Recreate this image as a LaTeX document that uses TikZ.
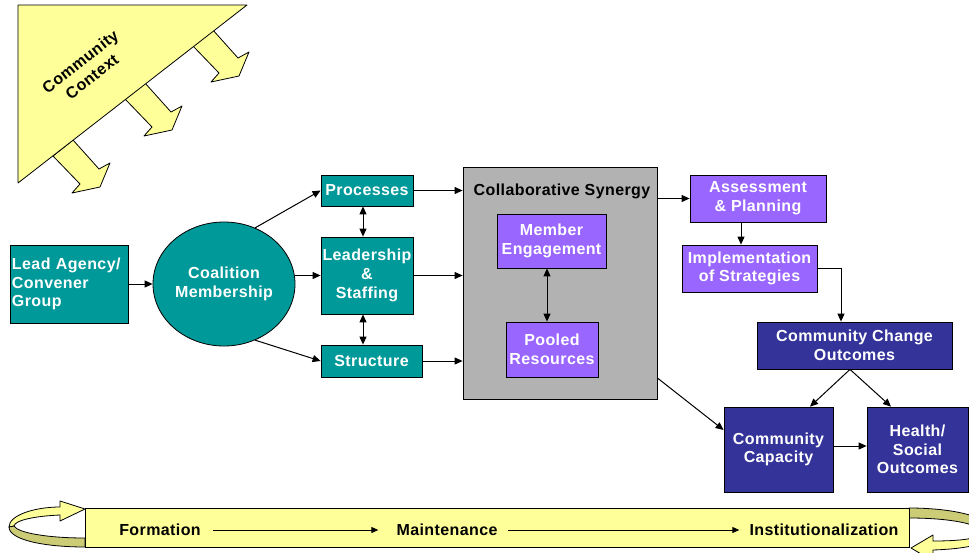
\documentclass[tikz,border=0pt]{standalone}
\usepackage{fontspec}
\setmainfont[LetterSpace=2.5]{Liberation Sans}
\usetikzlibrary{arrows.meta,shapes.geometric,calc}
\definecolor{cteal}{HTML}{009999}
\definecolor{cpurp}{HTML}{9966FF}
\definecolor{cblue}{HTML}{333399}
\definecolor{cgray}{HTML}{B2B2B2}
\definecolor{cyel}{HTML}{FFFF99}
\definecolor{colive}{HTML}{CCCC77}
\begin{document}
\begin{tikzpicture}[x=1pt,y=-1pt,
  txt/.style={font=\bfseries\fontsize{16}{18.7}\selectfont},
  box/.style={txt, draw=black, line width=0.8pt, inner sep=0pt, text=white, align=center},
  tealbox/.style={box, fill=cteal},
  purpbox/.style={box, fill=cpurp},
  bluebox/.style={box, fill=cblue},
  arr/.style={-{Triangle[length=8pt,width=7pt]}, line width=1pt},
  darr/.style={{Triangle[length=8pt,width=7pt]}-{Triangle[length=8pt,width=7pt]}, line width=1pt},
  barr/.style={-{Triangle[length=7pt,width=6pt]}, line width=0.9pt},
  lbl/.style={txt, inner sep=0pt, text=black},
  blk/.style={fill=cyel, draw=black, line width=0.8pt, line join=round},
  blkdark/.style={fill=colive, draw=black, line width=0.8pt, line join=round}]
\useasboundingbox (0,0) rectangle (969,552);

% community context: block arrows and triangle
\foreach \dx/\dy in {0/0,72/-57,139/-111}{
  \begin{scope}[shift={(\dx,\dy)}]
    \path[blk] (53,156) -- (80,184) -- (72,193) -- (100,187) -- (110,163) -- (99,169) -- (73,140) -- cycle;
  \end{scope}}
\path[blk] (18,5) -- (247,5) -- (18,183) -- cycle;
\node[lbl, font=\bfseries\fontsize{16}{19}\selectfont, rotate=38, align=center] (ctx) at (86,69) {Community\\Context};

% left side
\node[tealbox, minimum width=118pt, minimum height=78pt, text width=114pt, align=left] (lead) at (69,284) {\raisebox{0pt}[\height][0pt]{}Lead Agency/\\Convener\\Group};
\node[tealbox, ellipse, minimum width=142pt, minimum height=124pt] (coal) at (224,284) {Coalition\\Membership};
\node[tealbox, minimum width=92pt, minimum height=31pt] (proc) at (367,190.5) {Processes};
\node[tealbox, minimum width=92pt, minimum height=77pt] (lship) at (367,275.5) {Leadership\\\&\\Staffing};
\node[tealbox, minimum width=101pt, minimum height=32pt] (struc) at (371.5,361) {Structure};

% collaborative synergy
\node[draw=black, line width=0.8pt, fill=cgray, minimum width=194pt, minimum height=232pt, inner sep=0pt] (collab) at (560,283) {};
\node[lbl] (colt) at (562,191) {Collaborative Synergy};
\node[purpbox, minimum width=109pt, minimum height=54pt] (member) at (551.5,241) {Member\\Engagement};
\node[purpbox, minimum width=92pt, minimum height=55pt] (pooled) at (552,349.5) {Pooled\\Resources};

% right side
\node[purpbox, minimum width=136pt, minimum height=47pt] (assess) at (758,198.5) {Assessment\\\& Planning};
\node[purpbox, minimum width=135pt, minimum height=47pt] (impl) at (749.5,268.5) {Implementation\\of Strategies};
\node[bluebox, minimum width=195pt, minimum height=47pt] (cco) at (854.5,345.5) {Community Change\\Outcomes};
\node[bluebox, minimum width=109pt, minimum height=85pt] (cap) at (778.5,449.5) {Community\\Capacity};
\node[bluebox, minimum width=101pt, minimum height=85pt] (health) at (917.5,449.5) {Health/\\Social\\Outcomes};

% connectors
\draw[arr] (lead.east) -- (coal.west);
\draw[arr] (coal.61) -- (proc.west);
\draw[arr] (coal.east |- lship.west) -- (lship.west);
\draw[arr] (coal.-61) -- (struc.west);
\draw[darr] ([xshift=-4pt]proc.south) -- ([xshift=-4pt]lship.north);
\draw[darr] ([xshift=-4pt]lship.south) -- ([xshift=-4pt]lship.south |- struc.north);
\draw[arr] (proc.east) -- (proc.east -| collab.west);
\draw[arr] (lship.east) -- (lship.east -| collab.west);
\draw[arr] (struc.east) -- (struc.east -| collab.west);
\draw[darr] ([xshift=-4.5pt]member.south) -- ([xshift=-4.5pt]member.south |- pooled.north);
\draw[arr] (collab.east |- assess.west) -- (assess.west);
\draw[arr] ([xshift=-17pt]assess.south) -- ([xshift=-8.5pt]impl.north);
\draw[arr] (impl.east) -| ([xshift=-13.5pt]cco.north);
\draw[arr] ([xshift=-4.5pt]cco.south) -- ([xshift=31.5pt]cap.north);
\draw[arr] ([xshift=-4.5pt]cco.south) -- ([xshift=-26.5pt]health.north);
\draw[arr] ([yshift=-95pt]collab.east) -- ([yshift=19.5pt]cap.west);
\draw[arr] ([yshift=3.5pt]cap.east) -- ([yshift=3.5pt]health.west);

% bottom bar with loops
\begin{scope}
  \clip (0,0) rectangle (969,552);
  \path[blk] (9,527) .. controls (9,515) and (35,507) .. (60,507) -- (60,501) -- (85,509) -- (60,521) -- (60,515) .. controls (36,516) and (15,520) .. (14,526) -- cycle;
  \path[blkdark] (9,527) .. controls (9,540) and (45,547) .. (85,547) -- (85,538) .. controls (48,538) and (18,533) .. (14,526) -- cycle;
  \path[blkdark] (909,508) .. controls (950,508) and (992,516) .. (992,532) -- (982,532) .. controls (980,524) and (950,518) .. (909,518) -- cycle;
  \path[blk] (992,532) .. controls (992,545) and (962,549) .. (933,550) -- (933,561) -- (911,548) -- (933,535) -- (933,541) .. controls (958,541) and (982,539) .. (982,532) -- cycle;
\end{scope}
\node[draw=black, line width=0.8pt, fill=cyel, minimum width=824pt, minimum height=39pt, inner sep=0pt] (bar) at (497,527.5) {};
\node[lbl] (form) at (160,530) {Formation};
\node[lbl] (maint) at (447,530) {Maintenance};
\node[lbl] (inst) at (824,530) {Institutionalization};
\draw[barr, shorten <=12pt, shorten >=18pt] (form.east) -- (maint.west);
\draw[barr, shorten <=10pt, shorten >=10pt] (maint.east) -- (inst.west);
\end{tikzpicture}
\end{document}
